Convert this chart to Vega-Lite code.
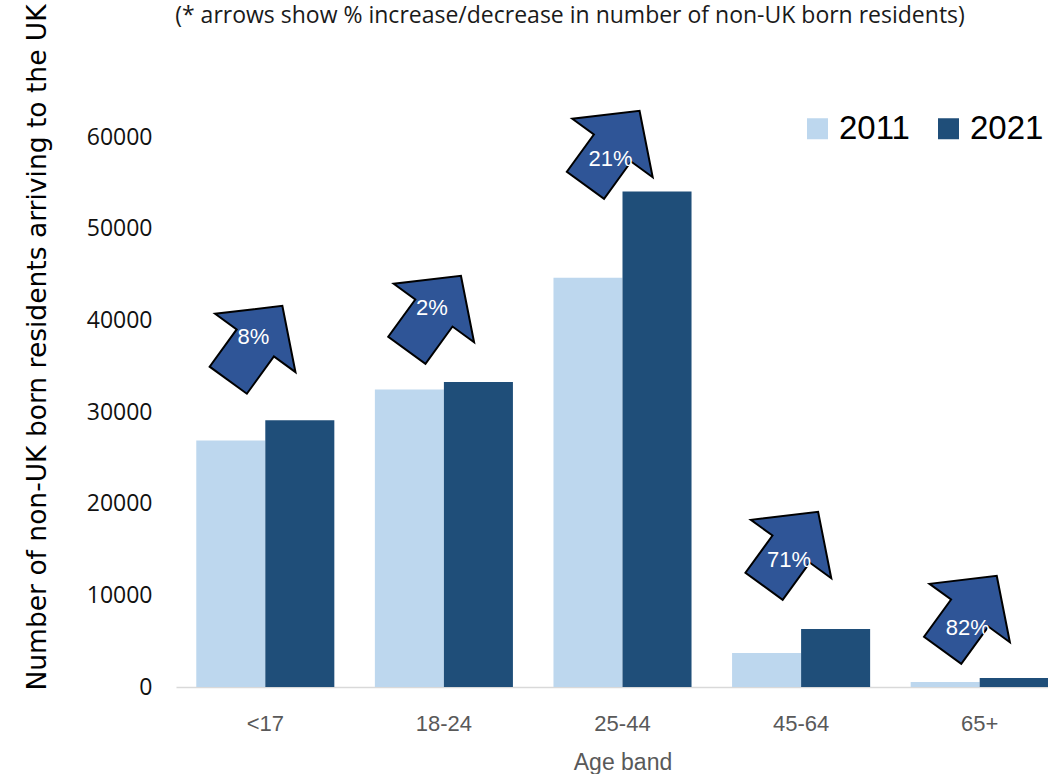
{
  "$schema": "https://vega.github.io/schema/vega-lite/v6.json",
  "autosize": {"type": "none"},
  "width": 872,
  "height": 550,
  "padding": {"left": 176, "top": 137, "right": 0, "bottom": 87},
  "background": "white",
  "title": {
    "text": "(* arrows show % increase/decrease in number of non-UK born residents)",
    "font": "Open Sans",
    "fontSize": 23,
    "fontWeight": "normal",
    "color": "#1a1a1a",
    "anchor": "middle",
    "baseline": "alphabetic",
    "offset": -42,
    "dx": -42
  },
  "datasets": {
    "bars": [
      {"age": "<17", "year": "2011", "value": 26900},
      {"age": "<17", "year": "2021", "value": 29100},
      {"age": "18-24", "year": "2011", "value": 32450},
      {"age": "18-24", "year": "2021", "value": 33270},
      {"age": "25-44", "year": "2011", "value": 44650},
      {"age": "25-44", "year": "2021", "value": 54050},
      {"age": "45-64", "year": "2011", "value": 3700},
      {"age": "45-64", "year": "2021", "value": 6330},
      {"age": "65+", "year": "2011", "value": 540},
      {"age": "65+", "year": "2021", "value": 985}
    ],
    "arrows": [
      {"age": "<17", "pct": "8%", "arrow_y": 37530, "label_y": 38180},
      {"age": "18-24", "pct": "2%", "arrow_y": 40800, "label_y": 41340},
      {"age": "25-44", "pct": "21%", "arrow_y": 58800, "label_y": 57600},
      {"age": "45-64", "pct": "71%", "arrow_y": 15050, "label_y": 13850},
      {"age": "65+", "pct": "82%", "arrow_y": 8070, "label_y": 6440}
    ]
  },
  "layer": [
    {
      "data": {"name": "bars"},
      "mark": {"type": "bar"},
      "encoding": {
        "x": {
          "field": "age",
          "type": "nominal",
          "sort": ["<17", "18-24", "25-44", "45-64", "65+"],
          "scale": {"range": [0, 893], "paddingInner": 0.227, "paddingOuter": 0.1135},
          "axis": {
            "title": "Age band",
            "titleFont": "Liberation Sans",
            "titleFontSize": 23,
            "titleFontWeight": "normal",
            "titleColor": "#595959",
            "titlePadding": 17,
            "labelFont": "Liberation Sans",
            "labelFontSize": 22,
            "labelColor": "#595959",
            "labelAngle": 0,
            "labelPadding": 26,
            "ticks": false,
            "domainColor": "#d9d9d9",
            "domainWidth": 1.5
          }
        },
        "xOffset": {
          "field": "year",
          "type": "nominal",
          "scale": {"paddingInner": 0, "paddingOuter": 0}
        },
        "y": {
          "field": "value",
          "type": "quantitative",
          "scale": {"domain": [0, 60000], "nice": false},
          "axis": {
            "title": "Number of non-UK born residents arriving to the UK",
            "titleFont": "DejaVu Sans",
            "titleFontSize": 26.5,
            "titleFontWeight": "normal",
            "titleColor": "#000000",
            "titleAngle": -90,
            "titleAlign": "left",
            "titleBaseline": "middle",
            "titleX": -139,
            "titleY": 553,
            "labelFont": "Open Sans",
            "labelFontSize": 23,
            "labelColor": "#111111",
            "labelPadding": 24,
            "values": [0, 10000, 20000, 30000, 40000, 50000, 60000],
            "format": "d",
            "ticks": false,
            "domain": false,
            "grid": false
          }
        },
        "color": {
          "field": "year",
          "type": "nominal",
          "scale": {"domain": ["2011", "2021"], "range": ["#BDD7EE", "#1F4E79"]},
          "legend": {
            "title": null,
            "orient": "none",
            "direction": "horizontal",
            "legendX": 625,
            "legendY": -25,
            "symbolType": "square",
            "symbolSize": 441,
            "symbolStrokeWidth": 0,
            "labelFont": "Liberation Sans",
            "labelFontSize": 33,
            "labelColor": "#000000",
            "labelOffset": 5,
            "columnPadding": 22
          }
        }
      }
    },
    {
      "data": {"name": "arrows"},
      "mark": {
        "type": "point",
        "shape": "M-0.176,-0.872 L0.904,0.128 L0.324,0.128 L0.324,1.128 L-0.676,1.128 L-0.676,0.128 L-1.256,0.128 Z",
        "size": 8464,
        "angle": 36,
        "filled": true,
        "fill": "#2F5597",
        "fillOpacity": 1,
        "opacity": 1,
        "stroke": "#000000",
        "strokeWidth": 2
      },
      "encoding": {
        "x": {"field": "age", "type": "nominal", "sort": ["<17", "18-24", "25-44", "45-64", "65+"]},
        "y": {"field": "arrow_y", "type": "quantitative"}
      }
    },
    {
      "data": {"name": "arrows"},
      "mark": {
        "type": "text",
        "font": "Liberation Sans",
        "fontSize": 22,
        "color": "#ffffff",
        "baseline": "middle",
        "align": "center",
        "dx": -12
      },
      "encoding": {
        "x": {"field": "age", "type": "nominal", "sort": ["<17", "18-24", "25-44", "45-64", "65+"]},
        "y": {"field": "label_y", "type": "quantitative"},
        "text": {"field": "pct", "type": "nominal"}
      }
    }
  ],
  "config": {
    "view": {"stroke": null}
  }
}
